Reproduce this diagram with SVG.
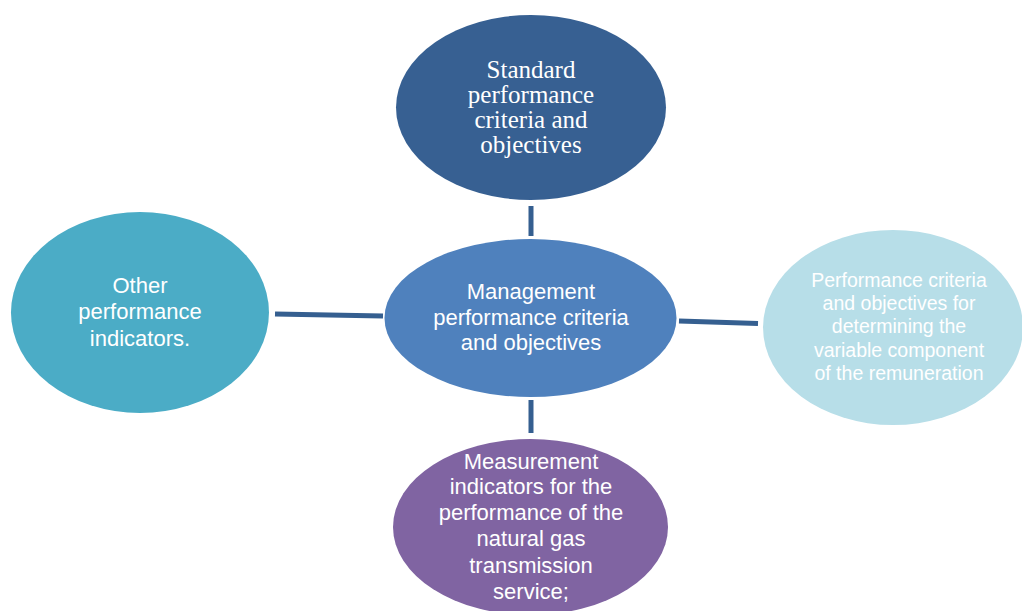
<svg xmlns="http://www.w3.org/2000/svg" width="1022" height="611" viewBox="0 0 1022 611">
<style>
.serif{font-family:"Liberation Serif","Times New Roman",serif;font-size:25px;fill:#ffffff;text-anchor:middle}
.sans{font-family:"Liberation Sans",Arial,sans-serif;font-size:22px;fill:#ffffff;text-anchor:middle}
.small{font-family:"Liberation Sans",Arial,sans-serif;font-size:19.5px;fill:#ffffff;text-anchor:middle}
.conn{stroke:#355F90;stroke-width:5;fill:none}
</style>
<rect width="1022" height="611" fill="#ffffff"/>
<g id="connectors">
<line class="conn" x1="531" y1="206" x2="531" y2="236"/>
<line class="conn" x1="275" y1="314" x2="383" y2="316"/>
<line class="conn" x1="679" y1="321" x2="758" y2="323.5"/>
<line class="conn" x1="531" y1="400" x2="531" y2="433"/>
</g>
<g id="node-top">
<ellipse cx="531" cy="107.5" rx="135" ry="92.5" fill="#376092"/>
<text class="serif"><tspan x="531" y="78">Standard</tspan><tspan x="531" y="103">performance</tspan><tspan x="531" y="128">criteria and</tspan><tspan x="531" y="153">objectives</tspan></text>
</g>
<g id="node-center">
<ellipse cx="530.5" cy="318" rx="146" ry="79" fill="#4F81BD"/>
<text class="sans"><tspan x="531" y="299">Management</tspan><tspan x="531" y="325">performance criteria</tspan><tspan x="531" y="350">and objectives</tspan></text>
</g>
<g id="node-left">
<ellipse cx="140" cy="312.5" rx="129" ry="100.5" fill="#4BACC6"/>
<text class="sans"><tspan x="140" y="293">Other</tspan><tspan x="140" y="319">performance</tspan><tspan x="140" y="346">indicators.</tspan></text>
</g>
<g id="node-right">
<ellipse cx="893" cy="327.5" rx="130" ry="97.5" fill="#B7DEE8"/>
<text class="small"><tspan x="899" y="287">Performance criteria</tspan><tspan x="899" y="310">and objectives for</tspan><tspan x="899" y="333">determining the</tspan><tspan x="899" y="357">variable component</tspan><tspan x="899" y="380">of the remuneration</tspan></text>
</g>
<g id="node-bottom">
<ellipse cx="530.5" cy="527" rx="137.5" ry="88" fill="#8064A2"/>
<text class="sans"><tspan x="531" y="469">Measurement</tspan><tspan x="531" y="494">indicators for the</tspan><tspan x="531" y="520">performance of the</tspan><tspan x="531" y="546">natural gas</tspan><tspan x="531" y="573">transmission</tspan><tspan x="531" y="599">service;</tspan></text>
</g>
</svg>
